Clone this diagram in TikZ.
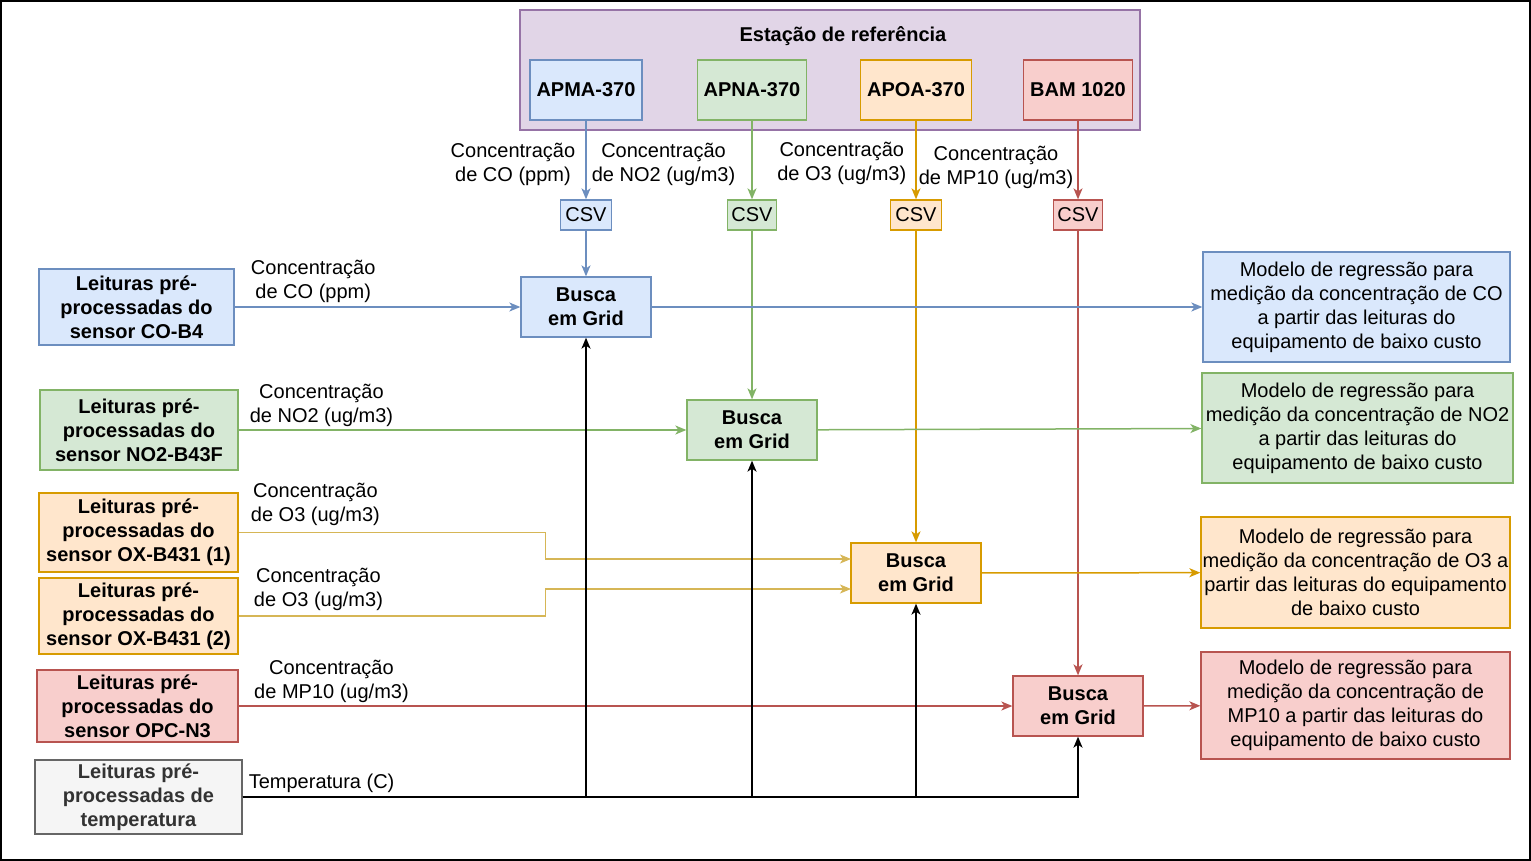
\documentclass[tikz,border=0pt]{standalone}
\usepackage{fontspec}
\setmainfont{Liberation Sans}
\usetikzlibrary{arrows.meta}
\definecolor{fluxocolor0000}{RGB}{218,232,252}
\definecolor{fluxocolor0001}{RGB}{108,142,191}
\definecolor{fluxocolor0002}{RGB}{213,232,212}
\definecolor{fluxocolor0003}{RGB}{130,179,102}
\definecolor{fluxocolor0004}{RGB}{255,230,204}
\definecolor{fluxocolor0005}{RGB}{215,155,0}
\definecolor{fluxocolor0006}{RGB}{248,206,204}
\definecolor{fluxocolor0007}{RGB}{184,84,80}
\definecolor{fluxocolor0008}{RGB}{225,213,231}
\definecolor{fluxocolor0009}{RGB}{150,115,166}
\definecolor{fluxocolor0010}{RGB}{245,245,245}
\definecolor{fluxocolor0011}{RGB}{102,102,102}
\definecolor{fluxocolor0012}{RGB}{51,51,51}
\definecolor{fluxocolor0013}{RGB}{214,182,86}
\begin{document}
\begin{tikzpicture}[yscale=-1
,>={Stealth[length=11pt,width=9pt,inset=3pt]}
,fnode/.style={rectangle,inner sep=0pt,align=center,line width=1.3pt,font=\fontsize{20pt}{24pt}\selectfont}
,fbold/.style={fnode,font=\fontsize{20pt}{24pt}\selectfont\bfseries}
,fstyle0/.style={draw=fluxocolor0001,fill=fluxocolor0000}
,fstyle1/.style={draw=fluxocolor0003,fill=fluxocolor0002}
,fstyle2/.style={draw=fluxocolor0005,fill=fluxocolor0004}
,fstyle3/.style={draw=fluxocolor0007,fill=fluxocolor0006}
,fstyle4/.style={draw=fluxocolor0009,fill=fluxocolor0008}
,fstyle5/.style={draw=fluxocolor0011,fill=fluxocolor0010,text=fluxocolor0012}
,busca/.style={fbold,minimum width=130pt,minimum height=60pt}
,csv/.style={fnode,minimum height=30pt}
,lbl/.style={inner sep=3pt,align=center,text=black,font=\fontsize{20pt}{24pt}\selectfont}
,estyle0/.style={->,color=fluxocolor0001,line width=1.5pt}
,estyle1/.style={->,color=fluxocolor0003,line width=1.5pt}
,estyle2/.style={->,color=fluxocolor0005,line width=1.5pt}
,estyle3/.style={->,color=fluxocolor0007,line width=1.5pt}
,estyle4/.style={->,color=fluxocolor0013,line width=1.5pt}
,estyle5/.style={->,color=black,line width=1.8pt}
]
\useasboundingbox (0pt,0pt) rectangle (1531pt,861pt);
\draw[black,line width=1.5pt] (1pt,1pt) rectangle (1530pt,860pt);
\node[fnode,fstyle4,minimum width=620pt,minimum height=120pt] (estacao) at (830pt,70pt) {};
\node[fbold] (estacaotitulo) at (843pt,36pt) {Estação de referência};
\node[fbold,fstyle0,minimum width=112pt,minimum height=60pt] (apma) at (586pt,90pt) {APMA-370};
\node[fbold,fstyle1,minimum width=109pt,minimum height=60pt] (apna) at (752pt,90pt) {APNA-370};
\node[fbold,fstyle2,minimum width=111pt,minimum height=60pt] (apoa) at (916pt,90pt) {APOA-370};
\node[fbold,fstyle3,minimum width=109pt,minimum height=60pt] (bam) at (1078pt,90pt) {BAM 1020};
\node[csv,fstyle0,minimum width=51pt] (csvco) at (586pt,215pt) {CSV};
\node[csv,fstyle1,minimum width=49pt] (csvno2) at (752pt,215pt) {CSV};
\node[csv,fstyle2,minimum width=51pt] (csvo3) at (916pt,215pt) {CSV};
\node[csv,fstyle3,minimum width=49pt] (csvmp) at (1078pt,215pt) {CSV};
\node[busca,fstyle0] (buscaco) at (586pt,307pt) {Busca\\em Grid};
\node[busca,fstyle1] (buscano2) at (752pt,430pt) {Busca\\em Grid};
\node[busca,fstyle2] (buscao3) at (916pt,573pt) {Busca\\em Grid};
\node[busca,fstyle3] (buscamp) at (1078pt,706pt) {Busca\\em Grid};
\node[fbold,fstyle0,minimum width=195pt,minimum height=76pt] (sensco) at (136.5pt,307pt) {Leituras pré-\\processadas do\\sensor CO-B4};
\node[fbold,fstyle1,minimum width=198pt,minimum height=80pt] (sensno2) at (139pt,430pt) {Leituras pré-\\processadas do\\sensor NO2-B43F};
\node[fbold,fstyle2,minimum width=199pt,minimum height=79pt] (sensox1) at (138.5pt,532.5pt) {Leituras pré-\\processadas do\\sensor OX-B431 (1)};
\node[fbold,fstyle2,minimum width=199pt,minimum height=76pt] (sensox2) at (138.5pt,616pt) {Leituras pré-\\processadas do\\sensor OX-B431 (2)};
\node[fbold,fstyle3,minimum width=201pt,minimum height=72pt] (sensopc) at (137.5pt,706pt) {Leituras pré-\\processadas do\\sensor OPC-N3};
\node[fbold,fstyle5,minimum width=207pt,minimum height=74pt] (senstemp) at (138.5pt,797pt) {Leituras pré-\\processadas de\\temperatura};
\node[fnode,fstyle0,minimum width=307pt,minimum height=110pt] (modeloco) at (1356.5pt,307pt) {Modelo de regressão para\\medição da concentração de CO\\a partir das leituras do\\equipamento de baixo custo};
\node[fnode,fstyle1,minimum width=311pt,minimum height=110pt] (modelono2) at (1357.5pt,428pt) {Modelo de regressão para\\medição da concentração de NO2\\a partir das leituras do\\equipamento de baixo custo};
\node[fnode,fstyle2,minimum width=309pt,minimum height=111pt] (modeloo3) at (1355.5pt,572.5pt) {Modelo de regressão para\\medição da concentração de O3 a\\partir das leituras do equipamento\\de baixo custo};
\node[fnode,fstyle3,minimum width=309pt,minimum height=107pt] (modelomp) at (1355.5pt,705.5pt) {Modelo de regressão para\\medição da concentração de\\MP10 a partir das leituras do\\equipamento de baixo custo};
\coordinate (o3in1) at (851pt,559pt);
\coordinate (o3in2) at (851pt,589pt);
\draw[estyle0] (apma) -- node[lbl,left,inner xsep=10pt,pos=0.56]{Concentração\\de CO (ppm)} (csvco);
\draw[estyle1] (apna) -- node[lbl,left,inner xsep=16pt,pos=0.56]{Concentração\\de NO2 (ug/m3)} (csvno2);
\draw[estyle2] (apoa) -- node[lbl,left,inner xsep=9pt,pos=0.54]{Concentração\\de O3 (ug/m3)} (csvo3);
\draw[estyle3] (bam) -- node[lbl,left,inner xsep=4pt,pos=0.6]{Concentração\\de MP10 (ug/m3)} (csvmp);
\draw[estyle0] (csvco) -- (buscaco);
\draw[estyle1] (csvno2) -- (buscano2);
\draw[estyle2] (csvo3) -- (buscao3);
\draw[estyle3] (csvmp) -- (buscamp);
\draw[estyle0] (sensco) -- node[lbl,above,pos=0.275,inner ysep=4pt]{Concentração\\de CO (ppm)} (buscaco);
\draw[estyle1] (sensno2) -- node[lbl,above,pos=0.185]{Concentração\\de NO2 (ug/m3)} (buscano2);
\draw[estyle4] (sensox1.east) -- node[lbl,above,pos=0.25,inner ysep=6pt]{Concentração\\de O3 (ug/m3)} ++(307pt,0pt) |- (o3in1);
\draw[estyle4] (sensox2.east) -- node[lbl,above,pos=0.26,inner ysep=5pt]{Concentração\\de O3 (ug/m3)} ++(307pt,0pt) |- (o3in2);
\draw[estyle3] (sensopc) -- node[lbl,above,pos=0.12]{Concentração\\de MP10 (ug/m3)} (buscamp);
\draw[estyle5] (senstemp) -| node[lbl,above,pos=0.115]{Temperatura (C)} (buscaco);
\draw[estyle5] (senstemp) -| (buscano2);
\draw[estyle5] (senstemp) -| (buscao3);
\draw[estyle5] (senstemp) -| (buscamp);
\draw[estyle0] (buscaco) -- (modeloco);
\draw[estyle1] (buscano2) -- (modelono2);
\draw[estyle2] (buscao3) -- (modeloo3);
\draw[estyle3] (buscamp) -- (modelomp);
\end{tikzpicture}
\end{document}
